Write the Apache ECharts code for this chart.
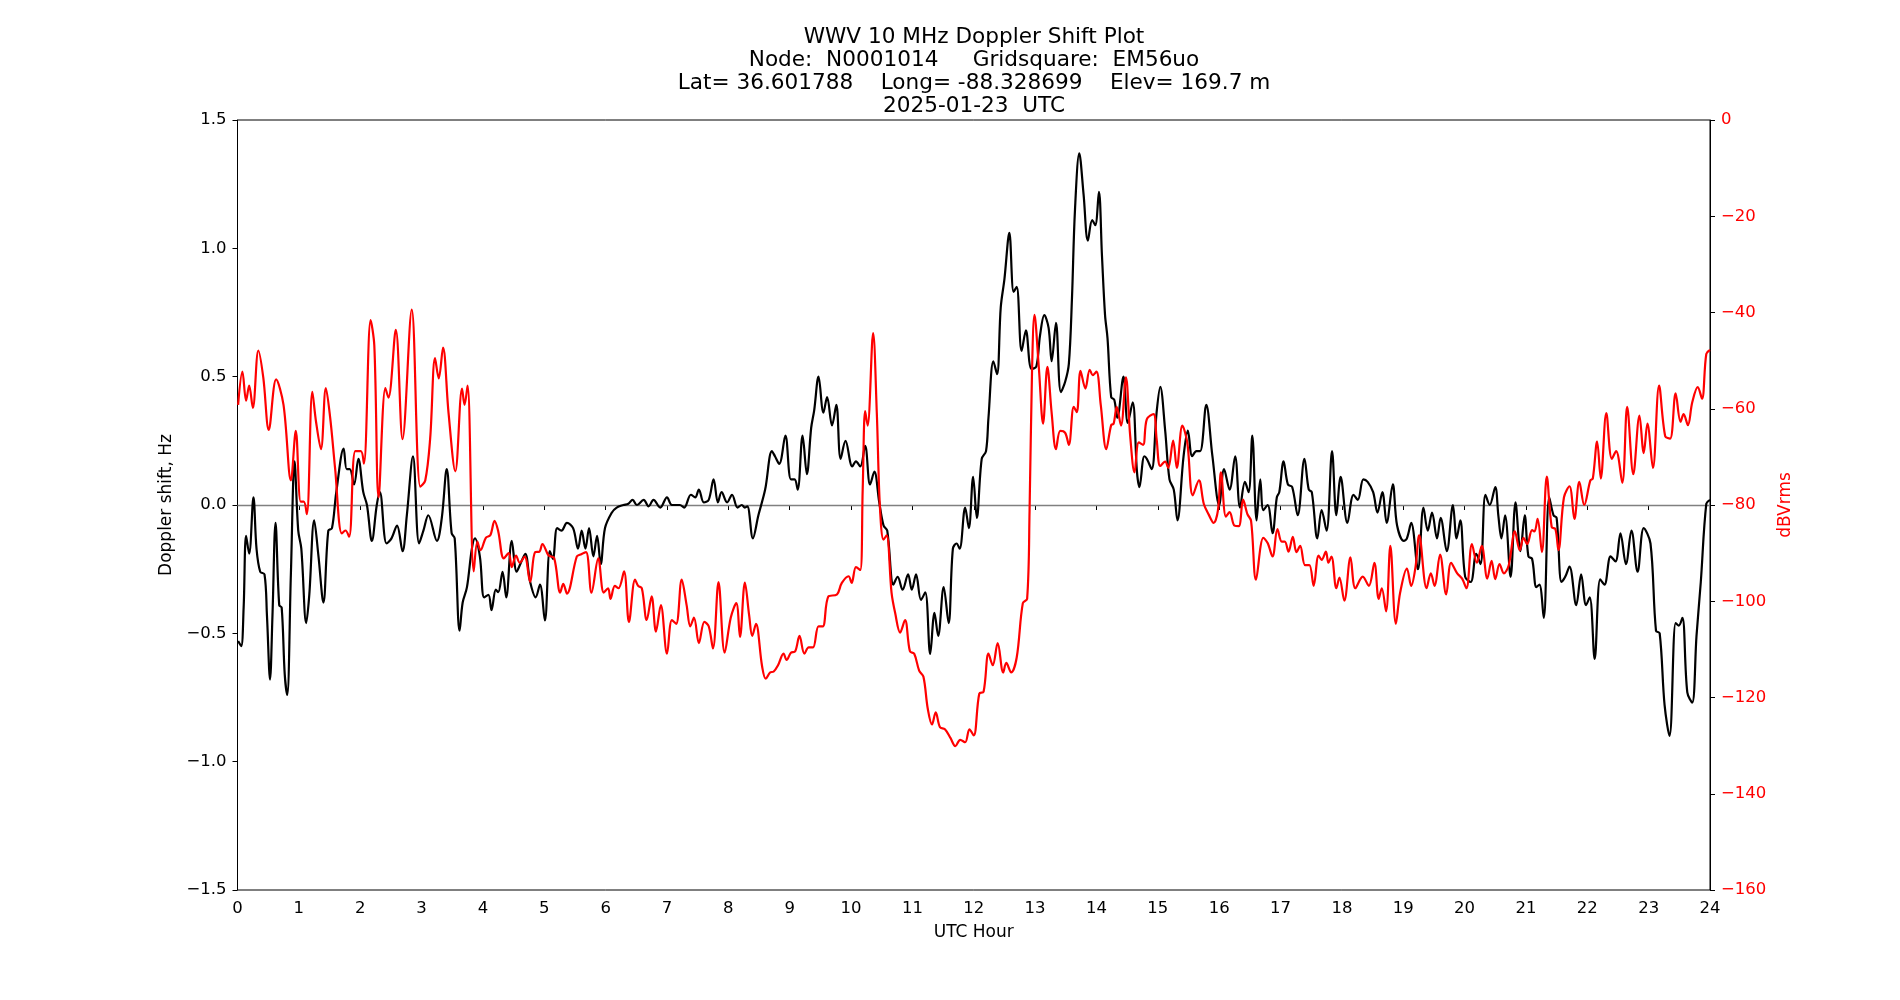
<!DOCTYPE html>
<html>
<head>
<meta charset="utf-8">
<title>WWV 10 MHz Doppler Shift Plot</title>
<script src="https://cdn.jsdelivr.net/npm/echarts/dist/echarts.min.js"></script>
<style>
  html, body { margin: 0; padding: 0; background: #fff; }
  #main { width: 1900px; height: 1000px; }
</style>
</head>
<body>
<div id="main"></div>
<script>
// [UTC hour, Doppler shift in Hz]
var dopplerShift = [
  [0.01,-0.53],[0.06,-0.55],[0.10,-0.40],[0.14,-0.12],[0.19,-0.19],[0.26,0.03],[0.31,-0.17],[0.37,-0.26],
  [0.44,-0.27],[0.48,-0.43],[0.53,-0.68],[0.57,-0.43],[0.62,-0.07],[0.68,-0.39],[0.72,-0.40],[0.77,-0.66],
  [0.81,-0.74],[0.87,-0.27],[0.93,0.17],[0.99,-0.10],[1.04,-0.17],[1.12,-0.46],[1.17,-0.35],[1.25,-0.06],
  [1.32,-0.20],[1.40,-0.38],[1.48,-0.10],[1.54,-0.09],[1.61,0.05],[1.73,0.22],[1.78,0.14],[1.83,0.14],
  [1.90,0.08],[1.97,0.18],[2.05,0.05],[2.11,0.00],[2.19,-0.14],[2.27,0.00],[2.32,0.05],[2.43,-0.15],
  [2.51,-0.13],[2.60,-0.08],[2.69,-0.18],[2.76,-0.04],[2.86,0.19],[2.96,-0.15],[3.03,-0.10],[3.11,-0.04],
  [3.25,-0.14],[3.33,-0.05],[3.41,0.14],[3.49,-0.11],[3.54,-0.13],[3.62,-0.49],[3.67,-0.38],[3.74,-0.32],
  [3.82,-0.17],[3.87,-0.13],[3.95,-0.20],[4.02,-0.36],[4.09,-0.35],[4.14,-0.41],[4.21,-0.33],[4.25,-0.34],
  [4.32,-0.26],[4.38,-0.36],[4.47,-0.14],[4.55,-0.26],[4.61,-0.23],[4.69,-0.19],[4.77,-0.30],[4.86,-0.36],
  [4.93,-0.31],[5.01,-0.45],[5.09,-0.18],[5.14,-0.21],[5.21,-0.09],[5.28,-0.10],[5.37,-0.07],[5.47,-0.09],
  [5.55,-0.17],[5.61,-0.10],[5.67,-0.17],[5.73,-0.09],[5.80,-0.20],[5.86,-0.12],[5.92,-0.23],[5.99,-0.09],
  [6.10,-0.03],[6.18,-0.01],[6.29,0.00],[6.37,0.005],[6.44,0.02],[6.51,0.00],[6.62,0.02],[6.70,-0.005],
  [6.78,0.02],[6.89,-0.01],[7.00,0.03],[7.08,0.00],[7.21,0.00],[7.28,-0.01],[7.39,0.04],[7.46,0.03],
  [7.52,0.06],[7.60,0.01],[7.68,0.02],[7.76,0.10],[7.83,0.01],[7.89,0.05],[7.98,0.01],[8.06,0.04],
  [8.15,-0.01],[8.22,0.00],[8.27,-0.01],[8.31,-0.005],[8.40,-0.13],[8.49,-0.04],[8.60,0.06],[8.71,0.21],
  [8.76,0.19],[8.83,0.16],[8.93,0.27],[9.02,0.10],[9.08,0.10],[9.13,0.06],[9.21,0.27],[9.28,0.12],
  [9.35,0.30],[9.40,0.37],[9.47,0.50],[9.55,0.36],[9.61,0.42],[9.69,0.31],[9.76,0.39],[9.83,0.18],
  [9.91,0.25],[10.02,0.15],[10.08,0.17],[10.15,0.15],[10.23,0.23],[10.31,0.08],[10.38,0.13],[10.46,0.01],
  [10.53,-0.08],[10.59,-0.10],[10.69,-0.31],[10.76,-0.28],[10.84,-0.33],[10.93,-0.27],[10.99,-0.33],[11.06,-0.27],
  [11.14,-0.37],[11.21,-0.34],[11.29,-0.58],[11.36,-0.42],[11.42,-0.51],[11.51,-0.32],[11.59,-0.46],[11.66,-0.17],
  [11.72,-0.15],[11.77,-0.17],[11.86,-0.01],[11.92,-0.09],[11.99,0.11],[12.05,-0.05],[12.13,0.18],[12.20,0.21],
  [12.24,0.34],[12.32,0.56],[12.38,0.51],[12.44,0.77],[12.50,0.88],[12.58,1.06],[12.65,0.83],[12.70,0.85],
  [12.78,0.60],[12.85,0.68],[12.94,0.53],[13.02,0.54],[13.08,0.66],[13.15,0.74],[13.22,0.69],[13.27,0.56],
  [13.34,0.71],[13.42,0.44],[13.49,0.48],[13.55,0.55],[13.60,0.80],[13.65,1.15],[13.72,1.37],[13.79,1.21],
  [13.86,1.03],[13.93,1.11],[13.98,1.09],[14.04,1.22],[14.09,0.97],[14.14,0.74],[14.18,0.65],[14.24,0.42],
  [14.29,0.41],[14.34,0.34],[14.44,0.50],[14.51,0.32],[14.59,0.40],[14.66,0.13],[14.70,0.07],[14.78,0.19],
  [14.82,0.18],[14.90,0.14],[14.98,0.36],[15.04,0.46],[15.12,0.29],[15.19,0.10],[15.26,0.06],[15.32,-0.06],
  [15.42,0.19],[15.49,0.29],[15.56,0.19],[15.63,0.21],[15.69,0.21],[15.79,0.39],[15.89,0.19],[16.00,0.00],
  [16.08,0.14],[16.17,0.06],[16.26,0.19],[16.34,-0.01],[16.42,0.09],[16.48,0.05],[16.54,0.27],[16.61,-0.06],
  [16.67,0.10],[16.72,-0.02],[16.79,0.00],[16.87,-0.11],[16.94,0.03],[16.98,0.05],[17.05,0.17],[17.12,0.08],
  [17.19,0.07],[17.28,-0.04],[17.39,0.18],[17.46,0.06],[17.51,0.05],[17.60,-0.13],[17.67,-0.02],[17.75,-0.10],
  [17.84,0.21],[17.91,-0.04],[17.98,0.11],[18.09,-0.07],[18.19,0.04],[18.26,0.02],[18.35,0.10],[18.42,0.09],
  [18.51,0.05],[18.58,-0.03],[18.66,0.05],[18.73,-0.07],[18.83,0.08],[18.90,-0.08],[19.01,-0.14],[19.06,-0.13],
  [19.13,-0.07],[19.24,-0.25],[19.33,-0.01],[19.40,-0.10],[19.47,-0.03],[19.55,-0.13],[19.61,-0.05],[19.71,-0.18],
  [19.81,0.00],[19.87,-0.13],[19.93,-0.06],[20.01,-0.28],[20.10,-0.30],[20.19,-0.19],[20.26,-0.23],[20.34,0.04],
  [20.41,0.00],[20.50,0.07],[20.55,-0.04],[20.60,-0.13],[20.66,-0.04],[20.75,-0.28],[20.83,0.01],[20.91,-0.18],
  [20.98,-0.04],[21.04,-0.20],[21.10,-0.21],[21.17,-0.32],[21.22,-0.31],[21.29,-0.44],[21.38,0.03],[21.45,-0.04],
  [21.50,-0.05],[21.58,-0.30],[21.64,-0.28],[21.71,-0.24],[21.82,-0.39],[21.90,-0.27],[21.98,-0.39],[22.04,-0.36],
  [22.12,-0.60],[22.21,-0.29],[22.28,-0.31],[22.38,-0.20],[22.46,-0.22],[22.54,-0.11],[22.63,-0.23],[22.72,-0.10],
  [22.82,-0.26],[22.92,-0.09],[23.03,-0.15],[23.12,-0.49],[23.18,-0.50],[23.26,-0.78],[23.34,-0.90],[23.44,-0.46],
  [23.49,-0.47],[23.55,-0.44],[23.63,-0.73],[23.71,-0.77],[23.78,-0.51],[23.85,-0.30],[23.94,0.005],[24.00,0.02]
];

// [UTC hour, signal level in dBVrms]
var signalLevel = [
  [0.01,-59.2],[0.08,-52.3],[0.14,-58.3],[0.19,-55.2],[0.25,-59.8],[0.34,-47.9],[0.42,-53.5],[0.51,-64.4],
  [0.63,-53.9],[0.75,-59.2],[0.87,-74.9],[0.95,-64.6],[1.03,-79.3],[1.08,-79.3],[1.13,-81.9],[1.22,-56.5],
  [1.28,-62.7],[1.36,-68.4],[1.44,-55.7],[1.51,-61.8],[1.59,-72.3],[1.70,-85.9],[1.76,-85.3],[1.82,-86.6],
  [1.92,-68.8],[2.01,-68.8],[2.06,-71.4],[2.17,-41.6],[2.23,-46.9],[2.30,-78.4],[2.41,-55.7],[2.46,-57.7],
  [2.58,-43.6],[2.69,-66.3],[2.84,-39.4],[2.98,-76.2],[3.06,-74.9],[3.14,-66.2],[3.22,-49.5],[3.28,-53.7],
  [3.35,-47.3],[3.44,-60.9],[3.55,-73.0],[3.66,-55.8],[3.70,-59.2],[3.75,-55.2],[3.85,-93.8],[3.91,-87.6],
  [3.96,-89.4],[4.05,-86.8],[4.12,-86.3],[4.19,-83.3],[4.25,-85.5],[4.34,-91.1],[4.42,-90.0],[4.47,-92.9],
  [4.54,-90.5],[4.60,-92.0],[4.68,-90.7],[4.77,-96.0],[4.85,-89.8],[4.92,-89.7],[4.97,-88.1],[5.07,-90.5],
  [5.16,-91.0],[5.26,-98.2],[5.31,-96.4],[5.37,-98.4],[5.53,-90.7],[5.59,-90.3],[5.68,-89.8],[5.77,-98.2],
  [5.88,-91.1],[5.97,-98.2],[6.04,-97.3],[6.08,-99.5],[6.15,-96.8],[6.21,-97.3],[6.30,-93.8],[6.38,-104.3],
  [6.48,-95.5],[6.53,-96.8],[6.59,-97.3],[6.67,-103.9],[6.75,-99.0],[6.82,-106.3],[6.90,-100.8],[7.00,-110.9],
  [7.08,-103.9],[7.15,-104.7],[7.24,-95.5],[7.32,-100.8],[7.38,-105.2],[7.44,-103.4],[7.52,-108.7],[7.61,-104.3],
  [7.68,-105.2],[7.75,-109.8],[7.84,-96.0],[7.94,-110.7],[8.04,-103.4],[8.13,-100.4],[8.19,-107.4],[8.27,-96.1],
  [8.34,-103.0],[8.39,-107.2],[8.45,-104.7],[8.55,-113.5],[8.61,-116.1],[8.68,-114.8],[8.74,-114.6],[8.81,-113.3],
  [8.90,-110.9],[8.95,-112.2],[9.02,-110.7],[9.09,-110.4],[9.16,-107.2],[9.24,-110.9],[9.31,-109.6],[9.38,-109.6],
  [9.47,-105.2],[9.54,-105.2],[9.63,-99.0],[9.77,-98.6],[9.85,-96.2],[9.96,-94.8],[10.01,-96.2],[10.08,-92.9],
  [10.15,-93.5],[10.19,-76.7],[10.23,-60.5],[10.27,-63.5],[10.36,-44.3],[10.42,-60.9],[10.47,-80.2],[10.53,-87.2],
  [10.58,-86.3],[10.66,-98.2],[10.72,-102.5],[10.80,-106.5],[10.88,-103.9],[10.96,-110.4],[11.03,-110.9],[11.11,-114.4],
  [11.18,-115.7],[11.25,-122.3],[11.32,-125.6],[11.38,-123.1],[11.45,-126.2],[11.53,-126.6],[11.62,-128.4],[11.70,-130.1],
  [11.78,-128.8],[11.86,-129.3],[11.93,-126.6],[12.00,-127.9],[12.09,-119.2],[12.16,-118.8],[12.24,-110.9],[12.31,-113.3],
  [12.39,-108.7],[12.48,-114.8],[12.53,-112.8],[12.61,-114.8],[12.70,-111.7],[12.80,-100.4],[12.87,-99.5],[12.91,-81.1],
  [12.95,-52.1],[12.99,-40.5],[13.06,-51.3],[13.13,-63.1],[13.20,-51.3],[13.27,-60.9],[13.34,-68.4],[13.41,-64.6],
  [13.49,-65.0],[13.55,-67.5],[13.63,-59.6],[13.68,-60.7],[13.74,-52.1],[13.82,-55.8],[13.89,-51.9],[13.94,-53.0],
  [14.00,-52.3],[14.07,-59.2],[14.16,-68.4],[14.24,-63.4],[14.28,-63.1],[14.33,-59.6],[14.40,-63.5],[14.48,-53.5],
  [14.55,-65.7],[14.62,-73.2],[14.69,-67.0],[14.76,-67.5],[14.82,-62.2],[14.93,-61.1],[14.98,-66.2],[15.04,-71.9],
  [15.12,-71.0],[15.17,-72.3],[15.25,-66.6],[15.31,-72.3],[15.40,-63.5],[15.48,-67.0],[15.57,-78.0],[15.67,-74.9],
  [15.75,-79.8],[15.83,-82.0],[15.91,-83.7],[15.98,-81.1],[16.03,-73.2],[16.11,-82.4],[16.17,-81.5],[16.25,-84.3],
  [16.32,-84.4],[16.39,-78.9],[16.46,-81.9],[16.52,-83.3],[16.60,-95.5],[16.72,-86.8],[16.79,-87.9],[16.87,-90.7],
  [16.95,-85.0],[17.02,-87.6],[17.07,-87.6],[17.13,-89.7],[17.20,-86.6],[17.26,-89.8],[17.32,-88.5],[17.40,-92.5],
  [17.47,-92.5],[17.54,-96.8],[17.62,-90.5],[17.67,-91.4],[17.74,-89.7],[17.78,-92.0],[17.83,-90.7],[17.91,-97.3],
  [17.96,-95.1],[18.04,-99.9],[18.14,-90.9],[18.22,-97.3],[18.34,-94.9],[18.44,-96.8],[18.53,-92.0],[18.60,-99.5],
  [18.65,-97.3],[18.72,-102.1],[18.79,-88.5],[18.88,-104.7],[18.95,-98.2],[19.06,-93.2],[19.13,-96.8],[19.20,-92.9],
  [19.26,-86.3],[19.38,-97.3],[19.45,-94.2],[19.51,-96.8],[19.60,-90.3],[19.70,-98.6],[19.78,-92.0],[19.88,-94.2],
  [19.96,-95.3],[20.03,-97.3],[20.12,-88.1],[20.20,-92.0],[20.28,-88.5],[20.37,-95.3],[20.44,-91.6],[20.50,-95.4],
  [20.57,-92.3],[20.64,-94.2],[20.72,-92.5],[20.82,-85.5],[20.90,-89.4],[20.96,-86.8],[21.02,-88.1],[21.10,-85.2],
  [21.14,-85.5],[21.19,-82.9],[21.26,-89.8],[21.34,-74.1],[21.42,-84.6],[21.48,-85.0],[21.53,-89.4],[21.62,-78.4],
  [21.71,-76.1],[21.79,-82.9],[21.87,-75.2],[21.95,-80.0],[22.05,-74.9],[22.09,-74.5],[22.16,-66.8],[22.22,-74.5],
  [22.31,-60.9],[22.40,-70.4],[22.47,-68.8],[22.57,-75.4],[22.65,-59.6],[22.75,-73.6],[22.85,-61.4],[22.92,-69.2],
  [22.98,-63.1],[23.07,-72.3],[23.17,-55.2],[23.27,-65.7],[23.35,-66.2],[23.44,-56.8],[23.52,-62.7],[23.57,-61.1],
  [23.64,-63.4],[23.71,-58.7],[23.80,-55.5],[23.87,-57.9],[23.94,-48.6],[24.00,-47.8]
];

var titleLines = [
  'WWV 10 MHz Doppler Shift Plot',
  'Node:  N0001014     Gridsquare:  EM56uo',
  'Lat= 36.601788    Long= -88.328699    Elev= 169.7 m',
  '2025-01-23  UTC'
];

var font = 'DejaVu Sans';

// matplotlib style minus sign
function fmt(v, digits) {
  var s = v.toFixed(digits);
  return s.replace('-', '\u2212');
}

var dom = document.getElementById('main');
var myChart = echarts.init(dom, null, { renderer: 'canvas' });

var option = {
  animation: false,
  backgroundColor: '#ffffff',
  title: {
    text: titleLines.join('\n'),
    left: 969,
    top: 20.5,
    textAlign: 'center',
    textStyle: {
      fontFamily: font,
      fontSize: 21.6,
      lineHeight: 23,
      fontWeight: 'normal',
      color: '#000'
    }
  },
  grid: {
    left: 237.5,
    right: 190,
    top: 120,
    bottom: 110,
    show: true,
    borderColor: '#000',
    borderWidth: 1,
    backgroundColor: 'transparent'
  },
  xAxis: {
    type: 'value',
    min: 0,
    max: 24,
    interval: 1,
    name: 'UTC Hour',
    nameLocation: 'middle',
    nameGap: 34,
    nameTextStyle: { fontFamily: font, fontSize: 17, color: '#000' },
    axisLine: { show: true, lineStyle: { color: '#000', width: 1 } },
    axisTick: { show: true, length: 5, lineStyle: { color: '#000' } },
    axisLabel: { fontFamily: font, fontSize: 16.5, color: '#000', margin: 10 },
    splitLine: { show: false }
  },
  yAxis: [
    {
      type: 'value',
      min: -1.5,
      max: 1.5,
      interval: 0.5,
      position: 'left',
      name: 'Doppler shift, Hz',
      nameLocation: 'middle',
      nameGap: 57.5,
      nameRotate: 90,
      nameTextStyle: { fontFamily: font, fontSize: 17, color: '#000' },
      axisLine: { show: true, lineStyle: { color: '#000', width: 1 } },
      axisTick: { show: true, length: 5, lineStyle: { color: '#000' } },
      axisLabel: {
        fontFamily: font, fontSize: 16.5, color: '#000', margin: 11,
        formatter: function (v) { return fmt(v, 1); }
      },
      splitLine: { show: false }
    },
    {
      type: 'value',
      min: -160,
      max: 0,
      interval: 20,
      position: 'right',
      name: 'dBVrms',
      nameLocation: 'middle',
      nameGap: 65,
      nameRotate: 90,
      nameTextStyle: { fontFamily: font, fontSize: 17, color: '#ff0000' },
      axisLine: { show: true, lineStyle: { color: '#000', width: 1 } },
      axisTick: { show: true, length: 5, lineStyle: { color: '#000' } },
      axisLabel: {
        fontFamily: font, fontSize: 16.5, color: '#ff0000', margin: 11,
        formatter: function (v) { return fmt(v, 0); }
      },
      splitLine: { show: false }
    }
  ],
  series: [
    {
      name: 'Doppler shift',
      type: 'line',
      yAxisIndex: 0,
      data: dopplerShift,
      smooth: 0.35,
      showSymbol: false,
      lineStyle: { color: '#000000', width: 2.2 },
      z: 3,
      markLine: {
        silent: true,
        symbol: 'none',
        label: { show: false },
        lineStyle: { color: '#808080', width: 1.3, type: 'solid' },
        data: [{ yAxis: 0 }],
        z: 1
      }
    },
    {
      name: 'Signal level',
      type: 'line',
      yAxisIndex: 1,
      data: signalLevel,
      smooth: 0.35,
      showSymbol: false,
      lineStyle: { color: '#ff0000', width: 2.2 },
      z: 4
    }
  ]
};

myChart.setOption(option);
window.addEventListener('resize', myChart.resize);
</script>
</body>
</html>
